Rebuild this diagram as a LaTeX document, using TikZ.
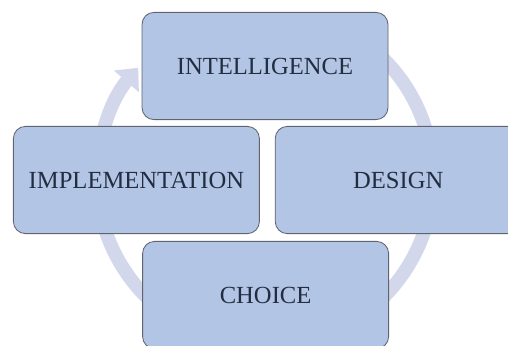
\documentclass[tikz,border=0pt]{standalone}
\usepackage{fontspec}
\setmainfont{Liberation Serif}
\usetikzlibrary{arrows.meta,positioning}

\definecolor{boxfill}{RGB}{178,197,228}
\definecolor{boxline}{RGB}{95,100,110}
\definecolor{cyclefill}{RGB}{210,215,236}
\definecolor{labeltext}{RGB}{35,45,65}

\tikzset{
stage/.style={draw=boxline, line width=0.6pt, fill=boxfill, rounded corners=0.3cm,
  minimum width=6.15cm, minimum height=2.68cm, text=labeltext,
  font=\fontsize{17.5}{20}\selectfont},
}

\begin{document}
\begin{tikzpicture}

\useasboundingbox (0,0) rectangle (12.7,-8.625);

\coordinate (C) at (6.625,-4.45);
% cycle band behind the boxes
\draw [cyclefill, line width=0.34cm, -{Triangle[width=0.8cm,length=0.45cm]}]
  (C) ++(60:4.2) arc[start angle=60, end angle=-221, radius=4.2];

\node[stage] (intel) at (6.625,-1.65) {INTELLIGENCE};
\node[stage] (impl) at (3.41,-4.5) {IMPLEMENTATION};
\node[stage, right=0.375cm of impl] (design) {DESIGN};
\node[stage] (choice) at (6.64,-7.375) {CHOICE};

\end{tikzpicture}
\end{document}
